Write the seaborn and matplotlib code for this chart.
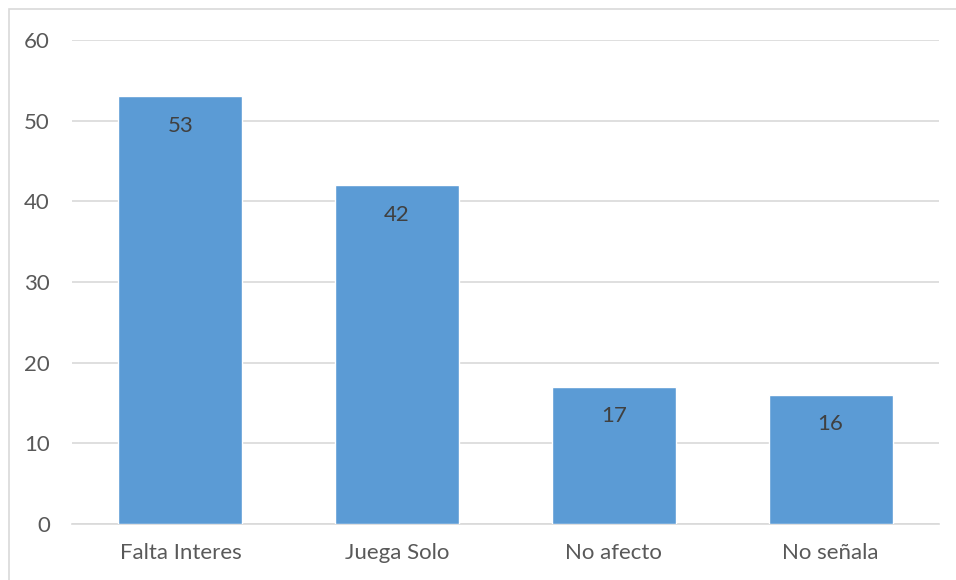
import matplotlib
matplotlib.use("Agg")
import matplotlib.pyplot as plt
import seaborn as sns
import pandas as pd
from matplotlib.patches import Rectangle

# Datos
categorias = ["Falta Interes", "Juega Solo", "No afecto", "No señala"]
valores = [53, 42, 17, 16]
ticks_y = [0, 10, 20, 30, 40, 50, 60]

df = pd.DataFrame({"categoria": categorias, "valor": valores})

sns.set_style("white")
plt.rcParams["font.family"] = ["Lato", "DejaVu Sans"]

fig = plt.figure(figsize=(9.56, 5.8), dpi=100)
ax = fig.add_axes([72 / 956, 1 - 524 / 580, (939 - 72) / 956, (524 - 40) / 580])

sns.barplot(data=df, x="categoria", y="valor", color="#5B9BD5", saturation=1,
            width=0.573, ax=ax, zorder=3)

ax.set_ylim(0, 60)
ax.set_xlim(-0.5, 3.5)
ax.set_yticks(ticks_y)
ax.grid(axis="y", color="#D9D9D9", linewidth=1.2, zorder=0)
ax.set_axisbelow(True)
for s in ["top", "right", "left"]:
    ax.spines[s].set_visible(False)
ax.spines["bottom"].set_color("#D9D9D9")
ax.spines["bottom"].set_linewidth(1.2)
ax.tick_params(axis="both", length=0, labelsize=16, colors="#595959")
ax.tick_params(axis="y", pad=16)
ax.tick_params(axis="x", pad=14)
ax.set_xlabel("")
ax.set_ylabel("")

# Etiquetas dentro de las barras
for bar, v in zip(ax.patches, valores):
    ax.annotate(str(v), (bar.get_x() + bar.get_width() / 2, v),
                xytext=(0, -14), textcoords="offset points",
                ha="center", va="top", fontsize=16, color="#404040")

# Borde del grafico
fig.patches.append(Rectangle((8.5 / 956, -0.05), 2, 1.05 - 9 / 580,
                             transform=fig.transFigure, fill=False,
                             edgecolor="#D9D9D9", linewidth=1.2))

fig.savefig("out.png", dpi=100)
